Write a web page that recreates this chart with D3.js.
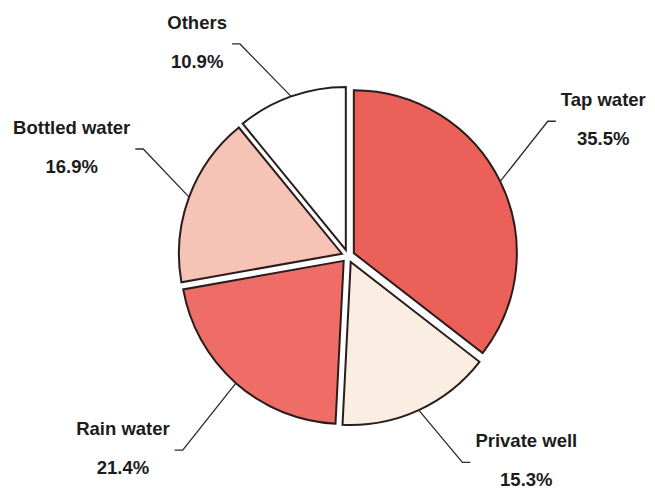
<!DOCTYPE html>
<html>
<head>
<meta charset="utf-8">
<script src="https://cdn.jsdelivr.net/npm/d3@7"></script>
<style>
  html, body { margin: 0; padding: 0; background: #ffffff; }
  svg { display: block; }
</style>
</head>
<body>
<svg id="chart" width="655" height="492"></svg>
<script>
// ---- data ----
const categories = ["Tap water", "Private well", "Rain water", "Bottled water", "Others"];
const values = [35.5, 15.3, 21.4, 16.9, 10.9];
const valueLabels = ["35.5%", "15.3%", "21.4%", "16.9%", "10.9%"];
const colors = ["#ec605a", "#faeee2", "#ee6d66", "#f6c3b7", "#ffffff"];

// ---- layout ----
const W = 655, H = 492;
const cx = 348, cy = 256;
const R = 163;
const explode = 6.5;
// label elbow placement (polar, degrees clockwise from 12 o'clock, radius)
const elbowAngle = [56, 151, 220.4, 297.6, 333];
const elbowRadius = [241, 236, 255, 231, 238];
const segLen = 8, gap = 5;

const svg = d3.select("#chart");
const g = svg.append("g").attr("transform", `translate(${cx},${cy})`);

const pie = d3.pie().sort(null).value(d => d)(values);
const arc = d3.arc().innerRadius(0).outerRadius(R);
const edgeArc = d3.arc().innerRadius(R).outerRadius(R);

const mid = d => (d.startAngle + d.endAngle) / 2;
const off = d => [explode * Math.sin(mid(d)), -explode * Math.cos(mid(d))];

g.selectAll("path.slice")
  .data(pie)
  .join("path")
  .attr("class", "slice")
  .attr("transform", d => `translate(${off(d)[0]},${off(d)[1]})`)
  .attr("d", arc)
  .attr("fill", (d, i) => colors[i])
  .attr("stroke", "#2a1c1c")
  .attr("stroke-width", 2)
  .attr("stroke-linejoin", "miter");

const rad = a => a * Math.PI / 180;

pie.forEach((d, i) => {
  const o = off(d);
  const c = edgeArc.centroid(d);
  const start = [c[0] + o[0], c[1] + o[1]];
  const ea = rad(elbowAngle[i]);
  const elbow = [elbowRadius[i] * Math.sin(ea), -elbowRadius[i] * Math.cos(ea)];
  const right = elbow[0] > 0;
  const end = [elbow[0] + (right ? segLen : -segLen), elbow[1]];

  g.append("polyline")
    .attr("points", [start, elbow, end].map(p => p.join(",")).join(" "))
    .attr("fill", "none")
    .attr("stroke", "#2b2b2b")
    .attr("stroke-width", 1.3);

  const name = g.append("text")
    .attr("y", elbow[1] - 15)
    .attr("text-anchor", "middle")
    .attr("font-family", "Liberation Sans, Arial, sans-serif")
    .attr("font-weight", "bold")
    .attr("font-size", 18.5)
    .attr("fill", "#1c1c1c")
    .text(categories[i]);
  const w = name.node().getComputedTextLength();
  const tx = right ? end[0] + gap + w / 2 : end[0] - gap - w / 2;
  name.attr("x", tx);

  g.append("text")
    .attr("x", tx)
    .attr("y", elbow[1] + 24)
    .attr("text-anchor", "middle")
    .attr("font-family", "Liberation Sans, Arial, sans-serif")
    .attr("font-weight", "bold")
    .attr("font-size", 18.5)
    .attr("fill", "#1c1c1c")
    .text(valueLabels[i]);
});
</script>
</body>
</html>
